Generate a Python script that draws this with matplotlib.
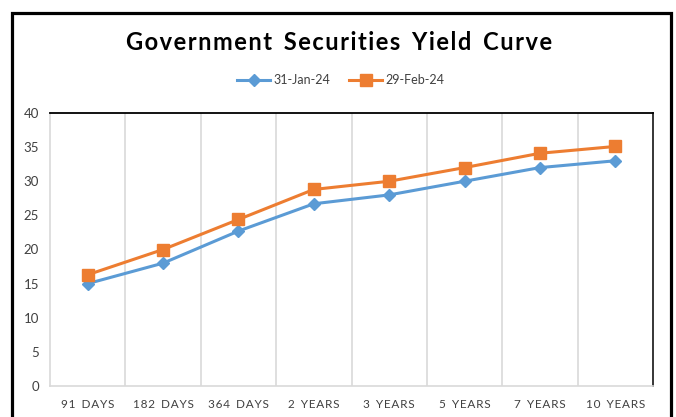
import matplotlib
matplotlib.use("Agg")
import matplotlib.pyplot as plt
from matplotlib.patches import Rectangle

tenors = ["91 DAYS", "182 DAYS", "364 DAYS", "2 YEARS", "3 YEARS",
          "5 YEARS", "7 YEARS", "10 YEARS"]
jan_yield = [15.0, 18.0, 22.7, 26.7, 28.0, 30.0, 32.0, 33.0]
feb_yield = [16.3, 20.0, 24.4, 28.8, 30.0, 32.0, 34.1, 35.1]
series_names = ["31-Jan-24", "29-Feb-24"]
yticks = [0, 5, 10, 15, 20, 25, 30, 35, 40]
title = "Government Securities Yield Curve"

W, H = 676, 417
BLUE = "#5B9BD5"
ORANGE = "#ED7D31"
TXT = "#404040"
HAIR = "\u200a"


def spaced(s):
    # fake letter spacing with hair spaces (DejaVu fallback has them)
    return HAIR.join(s.replace(" ", " " + HAIR))


plt.rcParams["font.family"] = ["Lato", "DejaVu Sans"]

fig = plt.figure(figsize=(W / 100, H / 100), dpi=100)
fig.patch.set_facecolor("white")

# outer chart frame (bottom runs off the picture)
fig.patches.append(Rectangle((11.5 / W, -0.05), (670.5 - 11.5) / W, 1.05 - 12.5 / H,
                             transform=fig.transFigure, fill=False,
                             edgecolor="black", linewidth=2.3))

ax = fig.add_axes([50 / W, (H - 386) / H, (653 - 50) / W, (386 - 113) / H])
x = list(range(len(tenors)))

ax.plot(x, jan_yield, color=BLUE, lw=2.2, marker="D", ms=6.5,
        label=series_names[0], zorder=3)
ax.plot(x, feb_yield, color=ORANGE, lw=2.2, marker="s", ms=8,
        label=series_names[1], zorder=3)

ax.set_xlim(-0.5, len(tenors) - 0.5)
ax.set_ylim(0, 40)
ax.set_yticks(yticks)
ax.set_xticks(x)
ax.set_xticklabels([spaced(t) for t in tenors], fontsize=8.5, color=TXT)
ax.tick_params(axis="y", length=0, pad=8, labelsize=9.5, labelcolor=TXT)
ax.tick_params(axis="x", length=0, pad=9)

for b in [i + 0.5 for i in x[:-1]]:
    ax.axvline(b, color="#D9D9D9", lw=1.2, zorder=1)

ax.spines["top"].set_color("black")
ax.spines["top"].set_linewidth(1.3)
ax.spines["right"].set_color("#262626")
ax.spines["right"].set_linewidth(1.3)
ax.spines["left"].set_color("#D9D9D9")
ax.spines["bottom"].set_color("#D9D9D9")
ax.spines["left"].set_linewidth(1.2)
ax.spines["bottom"].set_linewidth(1.2)

fig.text(339 / W, 1 - 42 / H, spaced(title),
         ha="center", va="center", fontsize=17, fontweight="bold", color="black")

fig.legend(loc="center", bbox_to_anchor=(341 / W, 1 - 80 / H), ncol=2,
           frameon=False, fontsize=9, handlelength=2.6, columnspacing=1.5,
           handletextpad=0.3, labelcolor=TXT)

fig.savefig("out.png", dpi=100)
